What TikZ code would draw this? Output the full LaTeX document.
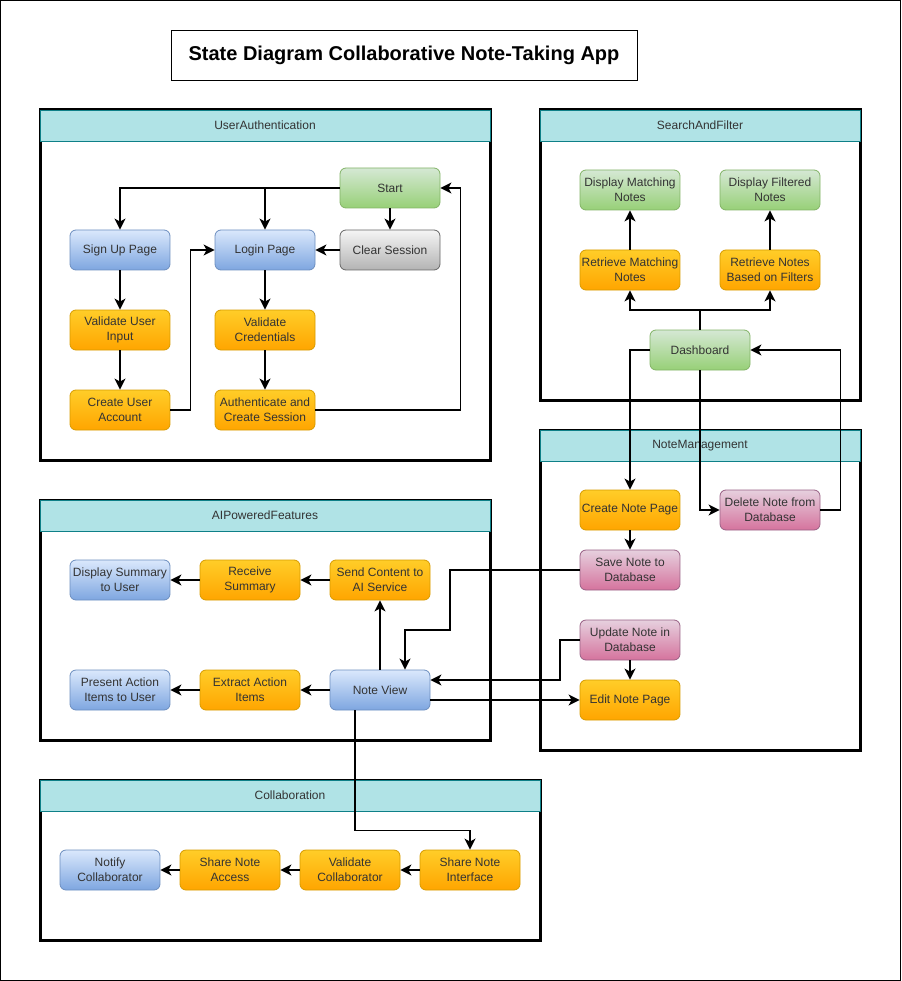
\documentclass[tikz,border=0pt]{standalone}
\usepackage{fontspec}
\setmainfont{Liberation Sans}
\usepackage{xcolor}
\usepackage{tikz}
\usetikzlibrary{arrows.meta,calc,positioning}

\definecolor{hdrfill}{HTML}{B0E3E6}
\definecolor{hdrline}{HTML}{0E8088}
\definecolor{greentop}{HTML}{D5E8D4}
\definecolor{greenbot}{HTML}{97D077}
\definecolor{greenline}{HTML}{82B366}
\definecolor{bluetop}{HTML}{DAE8FC}
\definecolor{bluebot}{HTML}{7EA6E0}
\definecolor{blueline}{HTML}{6C8EBF}
\definecolor{orangetop}{HTML}{FFCD28}
\definecolor{orangebot}{HTML}{FFA500}
\definecolor{orangeline}{HTML}{D79B00}
\definecolor{graytop}{HTML}{F5F5F5}
\definecolor{graybot}{HTML}{B3B3B3}
\definecolor{grayline}{HTML}{666666}
\definecolor{pinktop}{HTML}{E6D0DE}
\definecolor{pinkbot}{HTML}{D5739D}
\definecolor{pinkline}{HTML}{996185}
\definecolor{txt}{HTML}{333333}

\tikzset{
  state/.style={rectangle,rounded corners=6pt,minimum width=100pt,minimum height=40pt,
    inner sep=0pt,align=center,line width=0.8pt,text=txt,
    font=\fontsize{12}{15}\selectfont},
  greenst/.style={state,top color=greentop,bottom color=greenbot,draw=greenline},
  bluest/.style={state,top color=bluetop,bottom color=bluebot,draw=blueline},
  orangest/.style={state,top color=orangetop,bottom color=orangebot,draw=orangeline},
  grayst/.style={state,top color=graytop,bottom color=graybot,draw=grayline},
  pinkst/.style={state,top color=pinktop,bottom color=pinkbot,draw=pinkline},
  frame/.style={draw=black,line width=3pt},
  lanehead/.style={fill=hdrfill,draw=hdrline,line width=0.8pt},
  lanetitle/.style={text=txt,font=\fontsize{12}{15}\selectfont},
  flow/.style={line width=1.8pt,-{Stealth[length=11pt,width=11pt,inset=3pt]}}
}

\begin{document}
\begin{tikzpicture}[x=1pt,y=-1pt]
\useasboundingbox (0,0) rectangle (901,981);
\draw[line width=0.8pt] (0.5,0.5) rectangle (900.5,980.5);

% title
\node[draw,line width=0.8pt,minimum width=466pt,minimum height=50pt,
  font=\bfseries\fontsize{20}{24}\selectfont] (title) at (404,55)
  {State Diagram Collaborative Note-Taking App};

% lanes
\draw[frame] (40,110) rectangle (490,460);
\path[lanehead] (40,110) rectangle (490,141);
\node[lanetitle] (authlane) at (265,125.5) {UserAuthentication};

\draw[frame] (540,110) rectangle (860,400);
\path[lanehead] (540,110) rectangle (860,141);
\node[lanetitle] (searchlane) at (700,125.5) {SearchAndFilter};

\draw[frame] (540,430) rectangle (860,750);
\path[lanehead] (540,430) rectangle (860,461);
\node[lanetitle] (notelane) at (700,445.5) {NoteManagement};

\draw[frame] (40,500) rectangle (490,740);
\path[lanehead] (40,500) rectangle (490,531);
\node[lanetitle] (ailane) at (265,515.5) {AIPoweredFeatures};

\draw[frame] (40,780) rectangle (540,940);
\path[lanehead] (40,780) rectangle (540,811);
\node[lanetitle] (collablane) at (290,795.5) {Collaboration};

% UserAuthentication
\node[greenst] (start) at (390,188) {Start};
\node[grayst] (clear) at (390,250) {Clear Session};
\node[bluest] (signup) at (120,250) {Sign Up Page};
\node[bluest] (login) at (265,250) {Login Page};
\node[orangest] (valinput) at (120,330) {Validate User\\Input};
\node[orangest] (valcred) at (265,330) {Validate\\Credentials};
\node[orangest] (createacc) at (120,410) {Create User\\Account};
\node[orangest] (authsess) at (265,410) {Authenticate and\\Create Session};

% SearchAndFilter
\node[greenst] (dispmatch) at (630,190) {Display Matching\\Notes};
\node[greenst] (dispfilt) at (770,190) {Display Filtered\\Notes};
\node[orangest] (retmatch) at (630,270) {Retrieve Matching\\Notes};
\node[orangest] (retfilt) at (770,270) {Retrieve Notes\\Based on Filters};
\node[greenst] (dash) at (700,350) {Dashboard};

% NoteManagement
\node[orangest] (createnote) at (630,510) {Create Note Page};
\node[pinkst] (delnote) at (770,510) {Delete Note from\\Database};
\node[pinkst] (savenote) at (630,570) {Save Note to\\Database};
\node[pinkst] (updnote) at (630,640) {Update Note in\\Database};
\node[orangest] (editnote) at (630,700) {Edit Note Page};

% AIPoweredFeatures
\node[bluest] (dispsum) at (120,580) {Display Summary\\to User};
\node[orangest] (recsum) at (250,580) {Receive\\Summary};
\node[orangest] (sendai) at (380,580) {Send Content to\\AI Service};
\node[bluest] (present) at (120,690) {Present Action\\Items to User};
\node[orangest] (extract) at (250,690) {Extract Action\\Items};
\node[bluest] (noteview) at (380,690) {Note View};

% Collaboration
\node[bluest] (notify) at (110,870) {Notify\\Collaborator};
\node[orangest] (shareacc) at (230,870) {Share Note\\Access};
\node[orangest] (valcollab) at (350,870) {Validate\\Collaborator};
\node[orangest] (shareint) at (470,870) {Share Note\\Interface};

% transitions
\draw[flow] (start.west) -| (signup.north);
\draw[flow] (start.west) -| (login.north);
\draw[flow] (start) -- (clear);
\draw[flow] (clear) -- (login);
\draw[flow] (signup) -- (valinput);
\draw[flow] (valinput) -- (createacc);
\draw[flow] (createacc.east) -- ++(20,0) |- (login.west);
\draw[flow] (login) -- (valcred);
\draw[flow] (valcred) -- (authsess);
\draw[flow] (authsess.east) -- ++(145,0) |- (start.east);

\draw[flow] (dash.north) -- ++(0,-20) -| (retmatch.south);
\draw[flow] (dash.north) -- ++(0,-20) -| (retfilt.south);
\draw[flow] (retmatch) -- (dispmatch);
\draw[flow] (retfilt) -- (dispfilt);
\draw[flow] (dash.west) -| (createnote.north);
\draw[flow] (dash.south) |- (delnote.west);
\draw[flow] (delnote.east) -- ++(20,0) |- (dash.east);

\draw[flow] (createnote) -- (savenote);
\draw[flow] (savenote.west) -- ++(-130,0) -- ++(0,60) -| ([xshift=25pt]noteview.north);
\draw[flow] (updnote.west) -- ++(-20,0) |- ([yshift=10pt]noteview.east);
\draw[flow] (updnote) -- (editnote);
\draw[flow] ([yshift=-10pt]noteview.east) -- (editnote.west);

\draw[flow] (noteview) -- (sendai);
\draw[flow] (sendai) -- (recsum);
\draw[flow] (recsum) -- (dispsum);
\draw[flow] (noteview) -- (extract);
\draw[flow] (extract) -- (present);
\draw[flow] ([xshift=-25pt]noteview.south) -- ++(0,120) -| (shareint.north);

\draw[flow] (shareint) -- (valcollab);
\draw[flow] (valcollab) -- (shareacc);
\draw[flow] (shareacc) -- (notify);
\end{tikzpicture}
\end{document}
